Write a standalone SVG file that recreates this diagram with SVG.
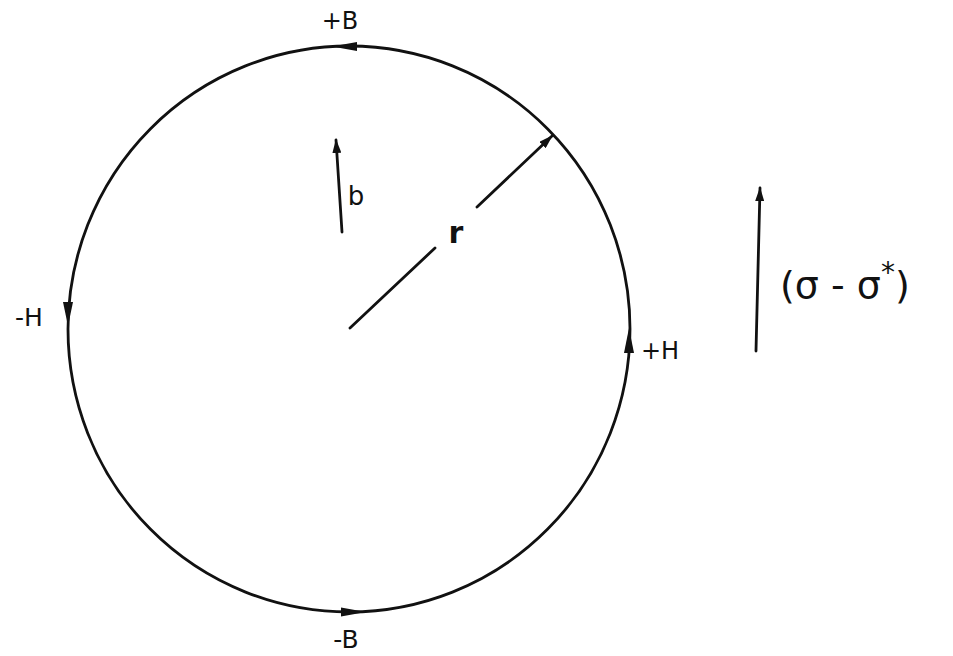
<svg xmlns="http://www.w3.org/2000/svg" width="953" height="656" viewBox="0 0 953 656">
<style>
.ln{stroke:#111;stroke-width:2.8;fill:none;stroke-linecap:round}
.t{font-family:"DejaVu Sans","Liberation Sans",sans-serif;fill:#111}
.ah{fill:#111}
</style>
<defs>
<marker id="tip" markerWidth="14" markerHeight="9" refX="13" refY="4.5" orient="auto" markerUnits="userSpaceOnUse">
<path d="M0,0 L14,4.5 L0,9 Z" class="ah"/>
</marker>
</defs>
<rect width="953" height="656" fill="#fff"/>
<g id="circle">
<ellipse cx="349" cy="329" rx="281" ry="283" class="ln"/>
<path d="M357,42 L332,46.5 L357,51 Z" class="ah"/>
<path d="M341,607.5 L366,612 L341,616.5 Z" class="ah"/>
<path d="M63,302 L68,326 L73,302 Z" class="ah"/>
<path d="M624,353 L629,328 L634,353 Z" class="ah"/>
</g>
<g id="labels">
<text class="t" x="340" y="29" font-size="24" text-anchor="middle">+B</text>
<text class="t" x="346" y="648" font-size="25" text-anchor="middle">-B</text>
<text class="t" x="29" y="326" font-size="25" text-anchor="middle">-H</text>
<text class="t" x="660" y="359" font-size="24" text-anchor="middle">+H</text>
</g>
<g id="connectors">
<line x1="342" y1="232" x2="336" y2="140" class="ln" marker-end="url(#tip)"/>
<line x1="350" y1="328" x2="435" y2="248" class="ln"/>
<line x1="477" y1="207" x2="552" y2="136" class="ln" marker-end="url(#tip)"/>
<line x1="756" y1="351" x2="760" y2="188" class="ln" marker-end="url(#tip)"/>
</g>
<g id="b-label"><text class="t" x="356" y="205" font-size="26" text-anchor="middle">b</text></g>
<g id="r-label"><text class="t" x="456" y="243" font-size="30" font-weight="bold" text-anchor="middle">r</text></g>
<g id="sigma-label"><text class="t" x="780" y="298" font-size="38">(σ - σ<tspan font-size="28" dy="-16">*</tspan><tspan dy="16">)</tspan></text></g>
</svg>
